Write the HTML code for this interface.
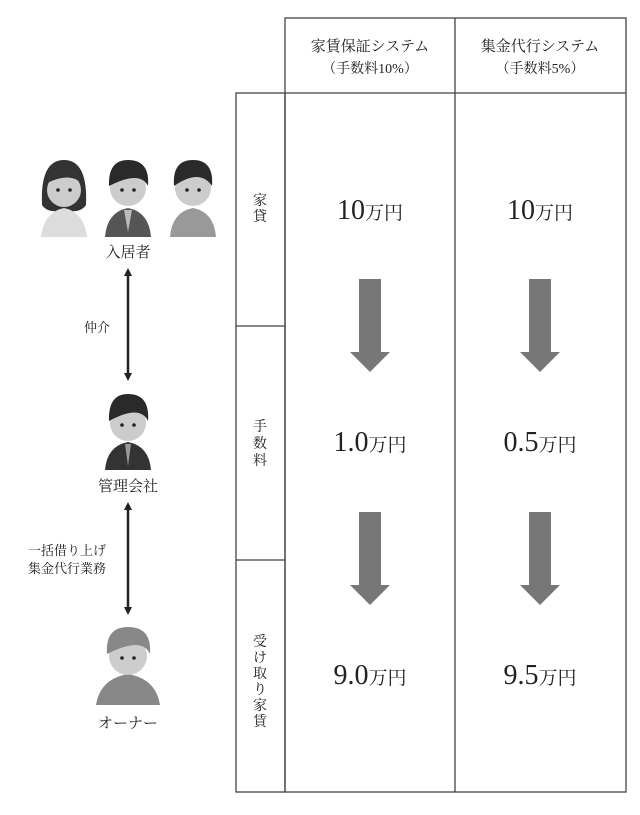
<!DOCTYPE html>
<html><head><meta charset="utf-8"><style>
html,body{margin:0;padding:0;background:#fff;}
svg{display:block;}
.s{font-family:"Liberation Serif","Noto Serif CJK SC",serif;fill:#222;}
</style></head><body>
<svg width="640" height="815" viewBox="0 0 640 815" xmlns="http://www.w3.org/2000/svg">
<g fill="none" stroke="#444" stroke-width="1.3">
<rect x="285" y="18" width="341" height="774"/>
<line x1="285" y1="93" x2="626" y2="93"/>
<line x1="455" y1="18" x2="455" y2="792"/>
<rect x="236" y="93" width="49" height="699"/>
<line x1="236" y1="326" x2="285" y2="326"/>
<line x1="236" y1="560" x2="285" y2="560"/>
</g>
<g class="s" text-anchor="middle">
<text x="370" y="51" font-size="15">家賃保証システム</text>
<text x="370" y="73" font-size="14">（手数料10%）</text>
<text x="540" y="51" font-size="15">集金代行システム</text>
<text x="540" y="73" font-size="14">（手数料5%）</text>
<text x="260" y="205" font-size="14">家</text>
<text x="260" y="221" font-size="14">貸</text>
<text x="260" y="431" font-size="14">手</text>
<text x="260" y="448" font-size="14">数</text>
<text x="260" y="465" font-size="14">料</text>
<text x="260" y="646" font-size="14">受</text>
<text x="260" y="662" font-size="14">け</text>
<text x="260" y="678" font-size="14">取</text>
<text x="260" y="694" font-size="14">り</text>
<text x="260" y="710" font-size="14">家</text>
<text x="260" y="726" font-size="14">賃</text>
<text x="370" y="219" font-size="28">10<tspan font-size="19">万円</tspan></text>
<text x="540" y="219" font-size="28">10<tspan font-size="19">万円</tspan></text>
<text x="370" y="451" font-size="28">1.0<tspan font-size="19">万円</tspan></text>
<text x="540" y="451" font-size="28">0.5<tspan font-size="19">万円</tspan></text>
<text x="370" y="684" font-size="28">9.0<tspan font-size="19">万円</tspan></text>
<text x="540" y="684" font-size="28">9.5<tspan font-size="19">万円</tspan></text>
<text x="128" y="257" font-size="15">入居者</text>
<text x="128" y="491" font-size="15">管理会社</text>
<text x="128" y="728" font-size="15">オーナー</text>
<text x="97" y="332" font-size="13">仲介</text>
<text x="67" y="555" font-size="13">一括借り上げ</text>
<text x="67" y="573" font-size="13">集金代行業務</text>
</g>
<g fill="#777">
<path d="M359 279H381V352H390L370 372L350 352H359Z"/>
<path d="M529 279H551V352H560L540 372L520 352H529Z"/>
<path d="M359 512H381V585H390L370 605L350 585H359Z"/>
<path d="M529 512H551V585H560L540 605L520 585H529Z"/>
</g>
<g stroke="#222" stroke-width="2.5" fill="#222">
<line x1="128" y1="274" x2="128" y2="375"/>
<line x1="128" y1="508" x2="128" y2="609"/>
</g>
<g fill="#222">
<path d="M128 268L124 276H132Z"/><path d="M128 381L124 373H132Z"/>
<path d="M128 502L124 510H132Z"/><path d="M128 615L124 607H132Z"/>
</g>
<path d="M42 205Q40 160 64 160Q88 160 86 205Q80 214 64 210Q48 214 42 205Z" fill="#333"/>
<path d="M41 237Q44 212 64 208Q84 212 87 237Z" fill="#ddd"/>
<circle cx="64" cy="190" r="17" fill="#ccc"/>
<path d="M47 183Q50 163 64 163Q80 163 81 183Q70 172 47 183Z" fill="#333"/>
<path d="M105 237Q107 212 128 208Q149 212 151 237Z" fill="#555"/>
<path d="M124 210H132L128 232Z" fill="#bbb"/>
<circle cx="128" cy="188" r="18" fill="#ccc"/>
<path d="M109 186Q108 160 128 160Q150 160 148 186Q140 170 109 186Z" fill="#2a2a2a"/>
<path d="M170 237Q172 212 193 208Q214 212 216 237Z" fill="#999"/>
<circle cx="193" cy="188" r="18" fill="#ccc"/>
<path d="M174 186Q172 160 193 160Q214 160 212 186Q200 168 174 186Z" fill="#2a2a2a"/>
<path d="M105 470Q107 446 128 442Q149 446 151 470Z" fill="#333"/>
<path d="M125 444H131L128 466Z" fill="#999"/>
<circle cx="128" cy="423" r="18" fill="#ccc"/>
<path d="M109 421Q108 394 128 394Q150 394 148 421Q140 404 109 421Z" fill="#2a2a2a"/>
<path d="M96 705Q100 679 128 674Q156 679 160 705Z" fill="#888"/>
<circle cx="128" cy="656" r="19" fill="#ccc"/>
<path d="M107 654Q105 627 128 627Q152 627 150 654Q142 636 107 654Z" fill="#888"/>
<g fill="#222">
<circle cx="58" cy="190" r="1.8"/><circle cx="70" cy="190" r="1.8"/>
<circle cx="122" cy="190" r="1.8"/><circle cx="134" cy="190" r="1.8"/>
<circle cx="187" cy="190" r="1.8"/><circle cx="199" cy="190" r="1.8"/>
<circle cx="122" cy="425" r="1.8"/><circle cx="134" cy="425" r="1.8"/>
<circle cx="122" cy="658" r="1.8"/><circle cx="134" cy="658" r="1.8"/>
</g>
</svg>
</body></html>
